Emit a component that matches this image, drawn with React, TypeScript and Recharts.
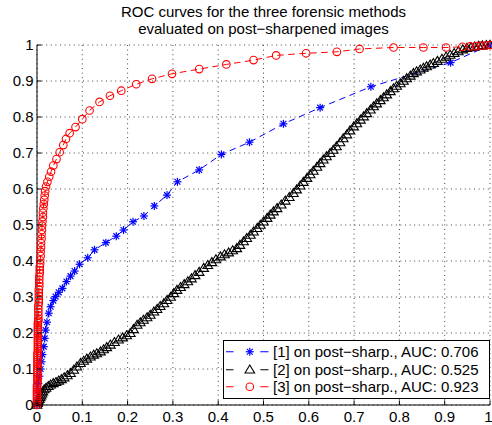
import React from 'react';
import { ComposedChart, Line, XAxis, YAxis, CartesianGrid, Legend } from 'recharts';

const FONT = '"Liberation Sans", Arial, Helvetica, sans-serif';

const titleLines = ['ROC curves for the three forensic methods', 'evaluated on post\u2212sharpened images'];
const xTicks = [0, 0.1, 0.2, 0.3, 0.4, 0.5, 0.6, 0.7, 0.8, 0.9, 1];
const yTicks = [0, 0.1, 0.2, 0.3, 0.4, 0.5, 0.6, 0.7, 0.8, 0.9, 1];

const seriesNames = [
  '[1] on post\u2212sharp., AUC: 0.706',
  '[2] on post\u2212sharp., AUC: 0.525',
  '[3] on post\u2212sharp., AUC: 0.923',
];
const seriesColors = ['#0000ff', '#000000', '#ff0000'];
const seriesMarkers = ['star', 'triangle', 'circle'];

// [false positive rate, true positive rate]
const method1Points: [number, number][] = [
  [0, 0], [0.001, 0.02], [0.002, 0.04], [0.003, 0.06], [0.005, 0.08], [0.008, 0.1], [0.01, 0.12],
  [0.012, 0.14], [0.015, 0.162], [0.017, 0.185], [0.019, 0.208], [0.022, 0.23], [0.026, 0.255],
  [0.03, 0.273], [0.036, 0.29], [0.041, 0.301], [0.048, 0.313], [0.056, 0.324], [0.065, 0.343],
  [0.074, 0.358], [0.083, 0.372], [0.094, 0.391], [0.112, 0.409], [0.127, 0.431], [0.152, 0.451],
  [0.175, 0.469], [0.191, 0.486], [0.212, 0.509], [0.236, 0.525], [0.259, 0.553], [0.287, 0.583],
  [0.31, 0.62], [0.358, 0.653], [0.407, 0.696], [0.469, 0.73], [0.544, 0.781], [0.625, 0.826],
  [0.737, 0.884], [0.913, 0.951], [1, 1],
];

const method2Points: [number, number][] = [
  [0, 0], [0.001, 0.005], [0.002, 0.009], [0.003, 0.012], [0.005, 0.016], [0.007, 0.021], [0.009, 0.026],
  [0.011, 0.031], [0.013, 0.037], [0.016, 0.043], [0.02, 0.047], [0.025, 0.052], [0.03, 0.056],
  [0.036, 0.06], [0.042, 0.063], [0.048, 0.067], [0.054, 0.071], [0.06, 0.076], [0.067, 0.082],
  [0.074, 0.088], [0.081, 0.097], [0.088, 0.106], [0.096, 0.116], [0.103, 0.122], [0.11, 0.128],
  [0.118, 0.134], [0.125, 0.139], [0.132, 0.143], [0.14, 0.148], [0.147, 0.154], [0.154, 0.16],
  [0.162, 0.167], [0.171, 0.174], [0.18, 0.181], [0.189, 0.187], [0.198, 0.193], [0.206, 0.199],
  [0.213, 0.21], [0.221, 0.222], [0.228, 0.229], [0.235, 0.236], [0.243, 0.243], [0.25, 0.25],
  [0.258, 0.259], [0.265, 0.266], [0.272, 0.274], [0.28, 0.282], [0.287, 0.291], [0.295, 0.3],
  [0.302, 0.31], [0.309, 0.319], [0.317, 0.327], [0.325, 0.335], [0.333, 0.343], [0.341, 0.351],
  [0.349, 0.36], [0.358, 0.369], [0.368, 0.38], [0.377, 0.388], [0.386, 0.396], [0.395, 0.404],
  [0.405, 0.412], [0.414, 0.418], [0.423, 0.423], [0.432, 0.429], [0.441, 0.435], [0.448, 0.444],
  [0.456, 0.454], [0.463, 0.463], [0.471, 0.472], [0.478, 0.481], [0.486, 0.491], [0.493, 0.5],
  [0.5, 0.509], [0.508, 0.519], [0.515, 0.528], [0.522, 0.537], [0.53, 0.546], [0.539, 0.556],
  [0.548, 0.567], [0.557, 0.577], [0.566, 0.588], [0.573, 0.598], [0.581, 0.609], [0.588, 0.619],
  [0.596, 0.63], [0.603, 0.64], [0.61, 0.65], [0.618, 0.661], [0.625, 0.671], [0.632, 0.681],
  [0.639, 0.69], [0.647, 0.699], [0.654, 0.708], [0.661, 0.718], [0.669, 0.729], [0.676, 0.74],
  [0.684, 0.751], [0.691, 0.762], [0.699, 0.773], [0.706, 0.782], [0.714, 0.792], [0.721, 0.801],
  [0.728, 0.81], [0.736, 0.82], [0.743, 0.829], [0.75, 0.837], [0.758, 0.846], [0.765, 0.854],
  [0.772, 0.862], [0.78, 0.871], [0.787, 0.879], [0.794, 0.886], [0.802, 0.893], [0.809, 0.9],
  [0.816, 0.907], [0.824, 0.914], [0.831, 0.921], [0.838, 0.926], [0.846, 0.931], [0.853, 0.936],
  [0.86, 0.94], [0.868, 0.945], [0.875, 0.949], [0.884, 0.955], [0.894, 0.961], [0.903, 0.967],
  [0.912, 0.972], [0.921, 0.977], [0.93, 0.982], [0.94, 0.987], [0.949, 0.991], [0.958, 0.993],
  [0.966, 0.995], [0.975, 0.997], [0.983, 0.998], [0.992, 0.999], [1, 1],
];

const method3Points: [number, number][] = [
  [0, 0], [0, 0.006], [0, 0.012], [0, 0.018], [0, 0.024], [0, 0.03], [0, 0.036], [0, 0.042], [0, 0.048],
  [0, 0.054], [0.001, 0.06], [0.001, 0.066], [0.001, 0.072], [0.001, 0.078], [0.001, 0.084], [0.001, 0.09],
  [0.001, 0.096], [0.001, 0.102], [0.001, 0.108], [0.001, 0.114], [0.001, 0.12], [0.001, 0.126],
  [0.001, 0.132], [0.001, 0.138], [0.001, 0.144], [0.002, 0.15], [0.002, 0.156], [0.002, 0.162],
  [0.002, 0.168], [0.002, 0.174], [0.002, 0.18], [0.002, 0.186], [0.002, 0.192], [0.002, 0.198],
  [0.002, 0.204], [0.002, 0.21], [0.002, 0.216], [0.002, 0.222], [0.002, 0.228], [0.003, 0.234],
  [0.003, 0.24], [0.003, 0.249], [0.003, 0.258], [0.003, 0.267], [0.003, 0.276], [0.004, 0.285],
  [0.004, 0.294], [0.004, 0.303], [0.004, 0.312], [0.004, 0.321], [0.005, 0.33], [0.005, 0.339],
  [0.005, 0.348], [0.005, 0.357], [0.006, 0.366], [0.006, 0.375], [0.006, 0.384], [0.007, 0.393],
  [0.007, 0.402], [0.008, 0.414], [0.008, 0.426], [0.009, 0.438], [0.009, 0.45], [0.01, 0.462],
  [0.01, 0.474], [0.011, 0.486], [0.011, 0.498], [0.012, 0.51], [0.013, 0.522], [0.013, 0.534],
  [0.014, 0.546], [0.015, 0.558], [0.016, 0.57], [0.017, 0.582], [0.018, 0.594], [0.02, 0.607],
  [0.023, 0.62], [0.027, 0.634], [0.031, 0.648], [0.036, 0.665], [0.043, 0.683], [0.05, 0.702],
  [0.058, 0.722], [0.064, 0.739], [0.072, 0.755], [0.085, 0.772], [0.1, 0.794], [0.116, 0.818],
  [0.138, 0.842], [0.161, 0.859], [0.186, 0.873], [0.219, 0.891], [0.254, 0.906], [0.298, 0.92],
  [0.358, 0.933], [0.418, 0.946], [0.478, 0.958], [0.528, 0.971], [0.594, 0.977], [0.662, 0.981],
  [0.712, 0.989], [0.787, 0.993], [0.853, 0.993], [0.903, 0.993], [0.939, 0.995], [0.956, 0.996],
  [0.969, 0.997], [0.98, 0.998], [0.991, 0.999], [1, 1],
];

const allPoints = [method1Points, method2Points, method3Points];

const toData = (pts: [number, number][]) => pts.map(([x, y]) => ({ x, y }));

const TICK_LEN = 4.5;
const fmt = (v: number) => (v === 0 ? '0' : v === 1 ? '1' : String(v));

function Marker({ kind, cx, cy, color }: { kind: string; cx: number; cy: number; color: string }) {
  if (cx == null || cy == null || isNaN(cx) || isNaN(cy)) return null;
  if (kind === 'circle') {
    return <circle cx={cx} cy={cy} r={3.8} fill="none" stroke={color} strokeWidth={1.1} />;
  }
  if (kind === 'triangle') {
    const pts = `${cx},${cy - 4.8} ${cx - 4.8},${cy + 3.2} ${cx + 4.8},${cy + 3.2}`;
    return <polygon points={pts} fill="none" stroke={color} strokeWidth={1.1} />;
  }
  const s = 4;
  const d = 2.9;
  return (
    <g stroke={color} strokeWidth={1.2}>
      <line x1={cx - s} y1={cy} x2={cx + s} y2={cy} />
      <line x1={cx} y1={cy - s} x2={cx} y2={cy + s} />
      <line x1={cx - d} y1={cy - d} x2={cx + d} y2={cy + d} />
      <line x1={cx - d} y1={cy + d} x2={cx + d} y2={cy - d} />
    </g>
  );
}

const BottomTick = (props: any) => {
  const { x, y, payload } = props;
  const shift = payload.value === 1 ? -1.5 : 0;
  return (
    <g>
      <line x1={x} x2={x} y1={y} y2={y - TICK_LEN} stroke="#000" strokeWidth={1} />
      <text x={x + shift} y={y + 6} dy="0.71em" textAnchor="middle" fontSize={15} fill="#000" fontFamily={FONT}>
        {fmt(payload.value)}
      </text>
    </g>
  );
};

const LeftTick = (props: any) => {
  const { x, y, payload } = props;
  return (
    <g>
      <line x1={x} x2={x + TICK_LEN} y1={y} y2={y} stroke="#000" strokeWidth={1} />
      <text x={x - 3.5} y={y} dy="0.355em" textAnchor="end" fontSize={15} fill="#000" fontFamily={FONT}>
        {fmt(payload.value)}
      </text>
    </g>
  );
};

const TopTick = (props: any) => {
  const { x, y } = props;
  return <line x1={x} x2={x} y1={y} y2={y + TICK_LEN} stroke="#000" strokeWidth={1} />;
};

const RightTick = (props: any) => {
  const { x, y } = props;
  return <line x1={x} x2={x - TICK_LEN} y1={y} y2={y} stroke="#000" strokeWidth={1} />;
};

const LegendBox = () => (
  <div
    style={{
      boxSizing: 'border-box',
      width: 267,
      border: '1px solid #000',
      background: '#fff',
      padding: '2px 0 2px 0',
      fontFamily: FONT,
      fontSize: 15,
      lineHeight: '17.5px',
      color: '#000',
    }}
  >
    {seriesNames.map((name, i) => (
      <div key={name} style={{ display: 'flex', alignItems: 'center', height: 17.5, whiteSpace: 'nowrap' }}>
        <svg width={49} height={17.5} style={{ display: 'block', flex: 'none' }}>
          <line x1={2} x2={9.5} y1={8.75} y2={8.75} stroke={seriesColors[i]} strokeWidth={1} />
          <Marker kind={seriesMarkers[i]} cx={25.8} cy={8.75} color={seriesColors[i]} />
          <line x1={36.3} x2={44.5} y1={8.75} y2={8.75} stroke={seriesColors[i]} strokeWidth={1} />
        </svg>
        <span>{name}</span>
      </div>
    ))}
  </div>
);

export default function App() {
  return (
    <div style={{ position: 'absolute', left: 0, top: 0, width: 492, height: 425, background: '#fff' }}>
      <div
        style={{
          position: 'absolute',
          left: 37,
          top: 2.7,
          width: 453,
          textAlign: 'center',
          fontFamily: FONT,
          fontSize: 15,
          lineHeight: '17.6px',
          color: '#000',
          zIndex: 2,
        }}
      >
        {titleLines.map((t) => (
          <div key={t}>{t}</div>
        ))}
      </div>
      <ComposedChart width={492} height={425} margin={{ top: 45, right: 2, bottom: 0, left: 0 }}>
        <CartesianGrid
          xAxisId="x"
          yAxisId="y"
          stroke="#444"
          strokeDasharray="1 3.6"
          strokeWidth={1}
          horizontalValues={yTicks}
          verticalValues={xTicks}
        />
        <XAxis
          xAxisId="x"
          dataKey="x"
          type="number"
          domain={[0, 1]}
          ticks={xTicks}
          interval={0}
          height={20}
          tickLine={false}
          tickSize={0}
          tickMargin={0}
          axisLine={{ stroke: '#000', strokeWidth: 1 }}
          tick={<BottomTick />}
        />
        <XAxis
          xAxisId="top"
          orientation="top"
          type="number"
          domain={[0, 1]}
          ticks={xTicks}
          interval={0}
          height={0}
          tickLine={false}
          tickSize={0}
          tickMargin={0}
          axisLine={{ stroke: '#000', strokeWidth: 1 }}
          tick={<TopTick />}
        />
        <YAxis
          yAxisId="y"
          type="number"
          domain={[0, 1]}
          ticks={yTicks}
          interval={0}
          width={37}
          tickLine={false}
          tickSize={0}
          tickMargin={0}
          axisLine={{ stroke: '#000', strokeWidth: 1 }}
          tick={<LeftTick />}
        />
        <YAxis
          yAxisId="right"
          orientation="right"
          type="number"
          domain={[0, 1]}
          ticks={yTicks}
          interval={0}
          width={0}
          tickLine={false}
          tickSize={0}
          tickMargin={0}
          axisLine={{ stroke: '#000', strokeWidth: 1 }}
          tick={<RightTick />}
        />
        {allPoints.map((pts, i) => (
          <Line
            key={seriesNames[i]}
            xAxisId="x"
            yAxisId="y"
            data={toData(pts)}
            dataKey="y"
            name={seriesNames[i]}
            type="linear"
            stroke={seriesColors[i]}
            strokeWidth={1}
            strokeDasharray="6.5 4.5"
            isAnimationActive={false}
            activeDot={false}
            dot={(p: any) => (
              <Marker key={`m${i}-${p.index}`} kind={seriesMarkers[i]} cx={p.cx} cy={p.cy} color={seriesColors[i]} />
            )}
          />
        ))}
        <Legend
          layout="horizontal"
          verticalAlign="middle"
          align="center"
          wrapperStyle={{ position: 'absolute', left: 223, top: 340, width: 267, height: 59 }}
          content={() => <LegendBox />}
        />
      </ComposedChart>
    </div>
  );
}
